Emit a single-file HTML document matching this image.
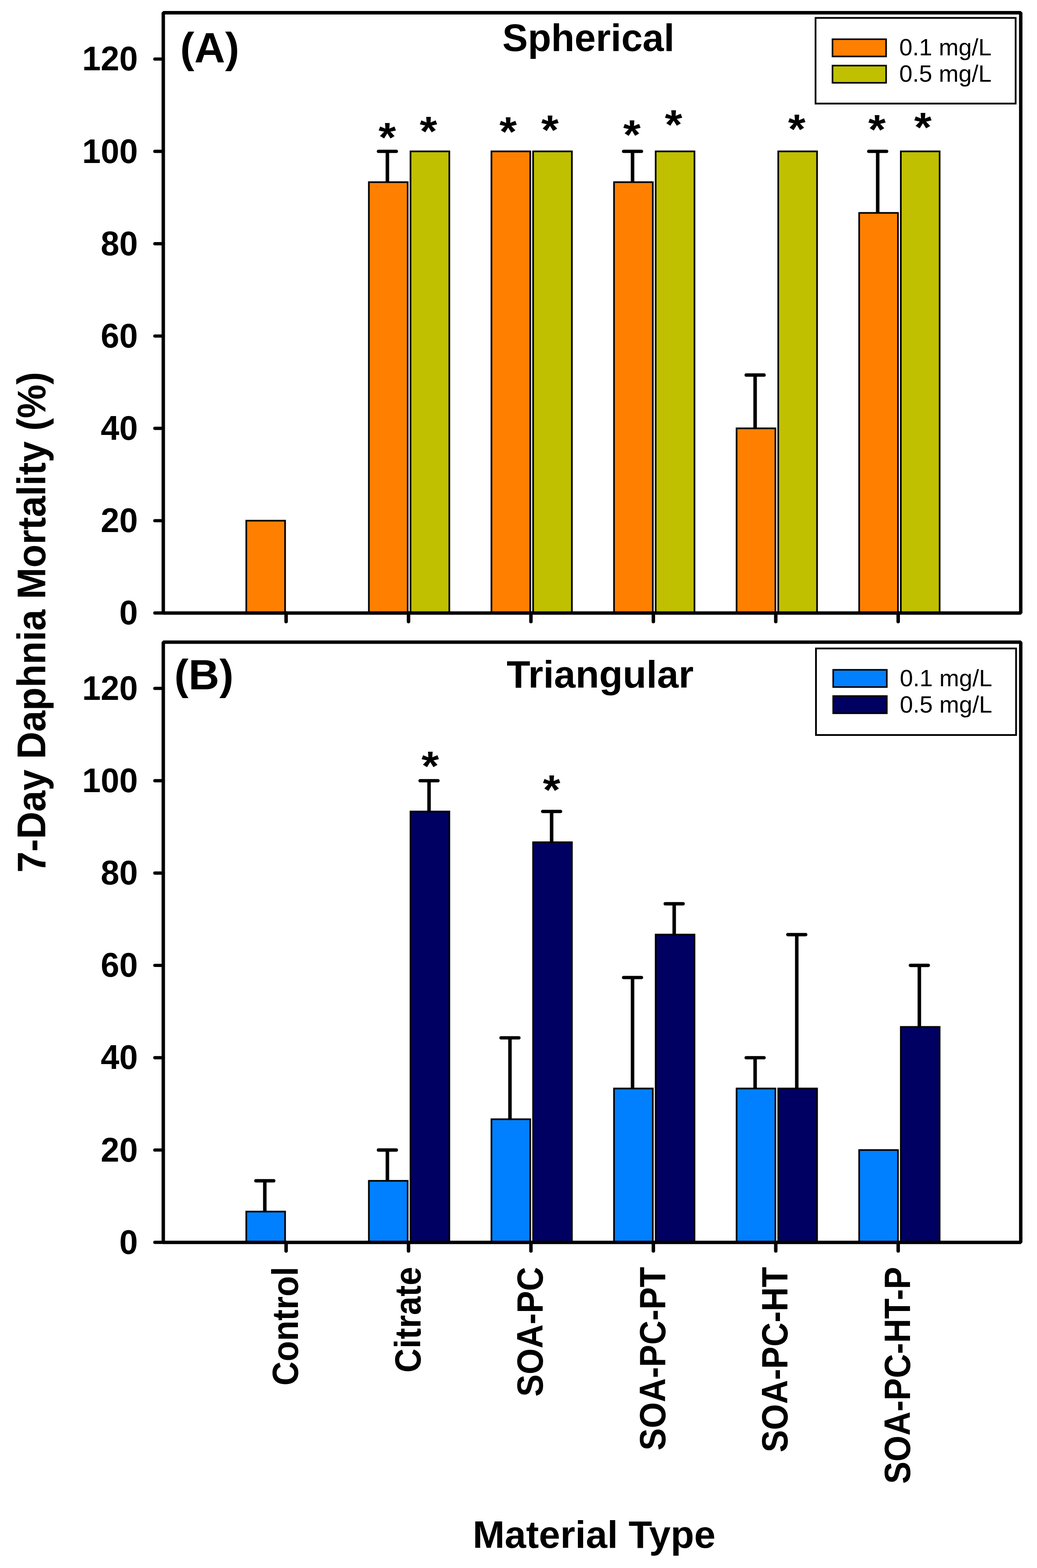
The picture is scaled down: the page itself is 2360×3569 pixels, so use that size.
<!DOCTYPE html><html><head><meta charset="utf-8"><style>html,body{margin:0;padding:0;background:#fff;}svg{display:block}text{font-family:"Liberation Sans",Arial,sans-serif;fill:#000}</style></head><body>
<svg width="2360" height="3569" viewBox="0 0 2360 3569">
<rect x="0" y="0" width="2360" height="3569" fill="#fff"/>
<rect x="560.50" y="1185.15" width="88.30" height="210.15" fill="#FF8000" stroke="#000" stroke-width="3.8"/>
<rect x="839.46" y="414.62" width="88.30" height="980.68" fill="#FF8000" stroke="#000" stroke-width="3.8"/>
<line x1="881.61" y1="415.62" x2="881.61" y2="344.53" stroke="#000" stroke-width="8"/>
<line x1="861.31" y1="344.53" x2="901.91" y2="344.53" stroke="#000" stroke-width="7.6" stroke-linecap="round"/>
<rect x="934.26" y="344.53" width="88.30" height="1050.77" fill="#C0C000" stroke="#000" stroke-width="3.8"/>
<rect x="1118.42" y="344.53" width="88.30" height="1050.77" fill="#FF8000" stroke="#000" stroke-width="3.8"/>
<rect x="1213.22" y="344.53" width="88.30" height="1050.77" fill="#C0C000" stroke="#000" stroke-width="3.8"/>
<rect x="1397.38" y="414.62" width="88.30" height="980.68" fill="#FF8000" stroke="#000" stroke-width="3.8"/>
<line x1="1439.53" y1="415.62" x2="1439.53" y2="344.53" stroke="#000" stroke-width="8"/>
<line x1="1419.23" y1="344.53" x2="1459.83" y2="344.53" stroke="#000" stroke-width="7.6" stroke-linecap="round"/>
<rect x="1492.18" y="344.53" width="88.30" height="1050.77" fill="#C0C000" stroke="#000" stroke-width="3.8"/>
<rect x="1676.34" y="974.99" width="88.30" height="420.31" fill="#FF8000" stroke="#000" stroke-width="3.8"/>
<line x1="1718.49" y1="975.99" x2="1718.49" y2="853.63" stroke="#000" stroke-width="8"/>
<line x1="1698.19" y1="853.63" x2="1738.79" y2="853.63" stroke="#000" stroke-width="7.6" stroke-linecap="round"/>
<rect x="1771.14" y="344.53" width="88.30" height="1050.77" fill="#C0C000" stroke="#000" stroke-width="3.8"/>
<rect x="1955.30" y="484.60" width="88.30" height="910.70" fill="#FF8000" stroke="#000" stroke-width="3.8"/>
<line x1="1997.45" y1="485.60" x2="1997.45" y2="344.53" stroke="#000" stroke-width="8"/>
<line x1="1977.15" y1="344.53" x2="2017.75" y2="344.53" stroke="#000" stroke-width="7.6" stroke-linecap="round"/>
<rect x="2050.10" y="344.53" width="88.30" height="1050.77" fill="#C0C000" stroke="#000" stroke-width="3.8"/>
<rect x="371.6" y="29.0" width="1951.40" height="1366.30" fill="none" stroke="#000" stroke-width="7.8" stroke-linejoin="bevel"/>
<line x1="352.4" y1="1395.30" x2="371.6" y2="1395.30" stroke="#000" stroke-width="7.4" stroke-linecap="round"/>
<text transform="translate(313.8,1421.30) scale(1,1.035)" x="0" y="0" font-size="76" font-weight="bold" text-anchor="end">0</text>
<line x1="352.4" y1="1185.15" x2="371.6" y2="1185.15" stroke="#000" stroke-width="7.4" stroke-linecap="round"/>
<text transform="translate(313.8,1211.15) scale(1,1.035)" x="0" y="0" font-size="76" font-weight="bold" text-anchor="end">20</text>
<line x1="352.4" y1="974.99" x2="371.6" y2="974.99" stroke="#000" stroke-width="7.4" stroke-linecap="round"/>
<text transform="translate(313.8,1000.99) scale(1,1.035)" x="0" y="0" font-size="76" font-weight="bold" text-anchor="end">40</text>
<line x1="352.4" y1="764.84" x2="371.6" y2="764.84" stroke="#000" stroke-width="7.4" stroke-linecap="round"/>
<text transform="translate(313.8,790.84) scale(1,1.035)" x="0" y="0" font-size="76" font-weight="bold" text-anchor="end">60</text>
<line x1="352.4" y1="554.68" x2="371.6" y2="554.68" stroke="#000" stroke-width="7.4" stroke-linecap="round"/>
<text transform="translate(313.8,580.68) scale(1,1.035)" x="0" y="0" font-size="76" font-weight="bold" text-anchor="end">80</text>
<line x1="352.4" y1="344.53" x2="371.6" y2="344.53" stroke="#000" stroke-width="7.4" stroke-linecap="round"/>
<text transform="translate(313.8,370.53) scale(1,1.035)" x="0" y="0" font-size="76" font-weight="bold" text-anchor="end">100</text>
<line x1="352.4" y1="134.38" x2="371.6" y2="134.38" stroke="#000" stroke-width="7.4" stroke-linecap="round"/>
<text transform="translate(313.8,160.38) scale(1,1.035)" x="0" y="0" font-size="76" font-weight="bold" text-anchor="end">120</text>
<line x1="651.10" y1="1395.30" x2="651.10" y2="1414.80" stroke="#000" stroke-width="7.9" stroke-linecap="round"/>
<line x1="929.70" y1="1395.30" x2="929.70" y2="1414.80" stroke="#000" stroke-width="7.9" stroke-linecap="round"/>
<line x1="1208.30" y1="1395.30" x2="1208.30" y2="1414.80" stroke="#000" stroke-width="7.9" stroke-linecap="round"/>
<line x1="1486.90" y1="1395.30" x2="1486.90" y2="1414.80" stroke="#000" stroke-width="7.9" stroke-linecap="round"/>
<line x1="1765.50" y1="1395.30" x2="1765.50" y2="1414.80" stroke="#000" stroke-width="7.9" stroke-linecap="round"/>
<line x1="2044.10" y1="1395.30" x2="2044.10" y2="1414.80" stroke="#000" stroke-width="7.9" stroke-linecap="round"/>
<text transform="translate(881.45,297.85) scale(1.02,0.94)" x="0" y="50.20" font-size="100" font-weight="bold" text-anchor="middle">*</text>
<text transform="translate(975.05,283.65) scale(1.02,0.94)" x="0" y="50.20" font-size="100" font-weight="bold" text-anchor="middle">*</text>
<text transform="translate(1156.35,284.75) scale(1.02,0.94)" x="0" y="50.20" font-size="100" font-weight="bold" text-anchor="middle">*</text>
<text transform="translate(1251.50,280.80) scale(1.02,0.94)" x="0" y="50.20" font-size="100" font-weight="bold" text-anchor="middle">*</text>
<text transform="translate(1438.00,291.30) scale(1.02,0.94)" x="0" y="50.20" font-size="100" font-weight="bold" text-anchor="middle">*</text>
<text transform="translate(1532.90,269.05) scale(1.02,0.94)" x="0" y="50.20" font-size="100" font-weight="bold" text-anchor="middle">*</text>
<text transform="translate(1813.30,278.35) scale(1.02,0.94)" x="0" y="50.20" font-size="100" font-weight="bold" text-anchor="middle">*</text>
<text transform="translate(1995.80,279.70) scale(1.02,0.94)" x="0" y="50.20" font-size="100" font-weight="bold" text-anchor="middle">*</text>
<text transform="translate(2100.25,274.80) scale(1.02,0.94)" x="0" y="50.20" font-size="100" font-weight="bold" text-anchor="middle">*</text>
<rect x="560.50" y="2757.71" width="88.30" height="70.09" fill="#0080FF" stroke="#000" stroke-width="3.8"/>
<line x1="602.65" y1="2758.71" x2="602.65" y2="2687.63" stroke="#000" stroke-width="8"/>
<line x1="582.35" y1="2687.63" x2="622.95" y2="2687.63" stroke="#000" stroke-width="7.6" stroke-linecap="round"/>
<rect x="839.46" y="2687.73" width="88.30" height="140.07" fill="#0080FF" stroke="#000" stroke-width="3.8"/>
<line x1="881.61" y1="2688.73" x2="881.61" y2="2617.65" stroke="#000" stroke-width="8"/>
<line x1="861.31" y1="2617.65" x2="901.91" y2="2617.65" stroke="#000" stroke-width="7.6" stroke-linecap="round"/>
<rect x="934.26" y="1847.12" width="88.30" height="980.68" fill="#000062" stroke="#000" stroke-width="3.8"/>
<line x1="976.41" y1="1848.12" x2="976.41" y2="1777.03" stroke="#000" stroke-width="8"/>
<line x1="956.11" y1="1777.03" x2="996.71" y2="1777.03" stroke="#000" stroke-width="7.6" stroke-linecap="round"/>
<rect x="1118.42" y="2547.56" width="88.30" height="280.24" fill="#0080FF" stroke="#000" stroke-width="3.8"/>
<line x1="1160.57" y1="2548.56" x2="1160.57" y2="2362.20" stroke="#000" stroke-width="8"/>
<line x1="1140.27" y1="2362.20" x2="1180.87" y2="2362.20" stroke="#000" stroke-width="7.6" stroke-linecap="round"/>
<rect x="1213.22" y="1917.10" width="88.30" height="910.70" fill="#000062" stroke="#000" stroke-width="3.8"/>
<line x1="1255.37" y1="1918.10" x2="1255.37" y2="1847.01" stroke="#000" stroke-width="8"/>
<line x1="1235.07" y1="1847.01" x2="1275.67" y2="1847.01" stroke="#000" stroke-width="7.6" stroke-linecap="round"/>
<rect x="1397.38" y="2477.58" width="88.30" height="350.22" fill="#0080FF" stroke="#000" stroke-width="3.8"/>
<line x1="1439.53" y1="2478.58" x2="1439.53" y2="2224.97" stroke="#000" stroke-width="8"/>
<line x1="1419.23" y1="2224.97" x2="1459.83" y2="2224.97" stroke="#000" stroke-width="7.6" stroke-linecap="round"/>
<rect x="1492.18" y="2127.25" width="88.30" height="700.55" fill="#000062" stroke="#000" stroke-width="3.8"/>
<line x1="1534.33" y1="2128.25" x2="1534.33" y2="2057.17" stroke="#000" stroke-width="8"/>
<line x1="1514.03" y1="2057.17" x2="1554.63" y2="2057.17" stroke="#000" stroke-width="7.6" stroke-linecap="round"/>
<rect x="1676.34" y="2477.58" width="88.30" height="350.22" fill="#0080FF" stroke="#000" stroke-width="3.8"/>
<line x1="1718.49" y1="2478.58" x2="1718.49" y2="2407.49" stroke="#000" stroke-width="8"/>
<line x1="1698.19" y1="2407.49" x2="1738.79" y2="2407.49" stroke="#000" stroke-width="7.6" stroke-linecap="round"/>
<rect x="1771.14" y="2477.58" width="88.30" height="350.22" fill="#000062" stroke="#000" stroke-width="3.8"/>
<line x1="1813.29" y1="2478.58" x2="1813.29" y2="2127.36" stroke="#000" stroke-width="8"/>
<line x1="1792.99" y1="2127.36" x2="1833.59" y2="2127.36" stroke="#000" stroke-width="7.6" stroke-linecap="round"/>
<rect x="1955.30" y="2617.65" width="88.30" height="210.15" fill="#0080FF" stroke="#000" stroke-width="3.8"/>
<rect x="2050.10" y="2337.41" width="88.30" height="490.39" fill="#000062" stroke="#000" stroke-width="3.8"/>
<line x1="2092.25" y1="2338.41" x2="2092.25" y2="2197.34" stroke="#000" stroke-width="8"/>
<line x1="2071.95" y1="2197.34" x2="2112.55" y2="2197.34" stroke="#000" stroke-width="7.6" stroke-linecap="round"/>
<rect x="371.6" y="1461.7" width="1951.40" height="1366.10" fill="none" stroke="#000" stroke-width="7.8" stroke-linejoin="bevel"/>
<line x1="352.4" y1="2827.80" x2="371.6" y2="2827.80" stroke="#000" stroke-width="7.4" stroke-linecap="round"/>
<text transform="translate(313.8,2853.80) scale(1,1.035)" x="0" y="0" font-size="76" font-weight="bold" text-anchor="end">0</text>
<line x1="352.4" y1="2617.65" x2="371.6" y2="2617.65" stroke="#000" stroke-width="7.4" stroke-linecap="round"/>
<text transform="translate(313.8,2643.65) scale(1,1.035)" x="0" y="0" font-size="76" font-weight="bold" text-anchor="end">20</text>
<line x1="352.4" y1="2407.49" x2="371.6" y2="2407.49" stroke="#000" stroke-width="7.4" stroke-linecap="round"/>
<text transform="translate(313.8,2433.49) scale(1,1.035)" x="0" y="0" font-size="76" font-weight="bold" text-anchor="end">40</text>
<line x1="352.4" y1="2197.34" x2="371.6" y2="2197.34" stroke="#000" stroke-width="7.4" stroke-linecap="round"/>
<text transform="translate(313.8,2223.34) scale(1,1.035)" x="0" y="0" font-size="76" font-weight="bold" text-anchor="end">60</text>
<line x1="352.4" y1="1987.18" x2="371.6" y2="1987.18" stroke="#000" stroke-width="7.4" stroke-linecap="round"/>
<text transform="translate(313.8,2013.18) scale(1,1.035)" x="0" y="0" font-size="76" font-weight="bold" text-anchor="end">80</text>
<line x1="352.4" y1="1777.03" x2="371.6" y2="1777.03" stroke="#000" stroke-width="7.4" stroke-linecap="round"/>
<text transform="translate(313.8,1803.03) scale(1,1.035)" x="0" y="0" font-size="76" font-weight="bold" text-anchor="end">100</text>
<line x1="352.4" y1="1566.88" x2="371.6" y2="1566.88" stroke="#000" stroke-width="7.4" stroke-linecap="round"/>
<text transform="translate(313.8,1592.88) scale(1,1.035)" x="0" y="0" font-size="76" font-weight="bold" text-anchor="end">120</text>
<line x1="651.10" y1="2827.80" x2="651.10" y2="2847.30" stroke="#000" stroke-width="7.9" stroke-linecap="round"/>
<line x1="929.70" y1="2827.80" x2="929.70" y2="2847.30" stroke="#000" stroke-width="7.9" stroke-linecap="round"/>
<line x1="1208.30" y1="2827.80" x2="1208.30" y2="2847.30" stroke="#000" stroke-width="7.9" stroke-linecap="round"/>
<line x1="1486.90" y1="2827.80" x2="1486.90" y2="2847.30" stroke="#000" stroke-width="7.9" stroke-linecap="round"/>
<line x1="1765.50" y1="2827.80" x2="1765.50" y2="2847.30" stroke="#000" stroke-width="7.9" stroke-linecap="round"/>
<line x1="2044.10" y1="2827.80" x2="2044.10" y2="2847.30" stroke="#000" stroke-width="7.9" stroke-linecap="round"/>
<text transform="translate(979.05,1729.10) scale(1.02,0.94)" x="0" y="50.20" font-size="100" font-weight="bold" text-anchor="middle">*</text>
<text transform="translate(1255.35,1782.70) scale(1.02,0.94)" x="0" y="50.20" font-size="100" font-weight="bold" text-anchor="middle">*</text>
<text x="409.9" y="142" font-size="97" font-weight="bold">(A)</text>
<text x="396.8" y="1569.3" font-size="97" font-weight="bold">(B)</text>
<text x="1143.2" y="116.4" font-size="87" font-weight="bold">Spherical</text>
<text x="1153.1" y="1564.5" font-size="88" font-weight="bold">Triangular</text>
<rect x="1856" y="40.75" width="455.4" height="195" fill="#fff" stroke="#000" stroke-width="4"/>
<rect x="1894.6" y="89.3" width="122" height="39.2" fill="#FF8000" stroke="#000" stroke-width="3.6"/>
<rect x="1894.6" y="149.3" width="122" height="39.2" fill="#C0C000" stroke="#000" stroke-width="3.6"/>
<text x="2046.5" y="126.25" font-size="54">0.1 mg/L</text>
<text x="2046.5" y="185.6" font-size="54">0.5 mg/L</text>
<rect x="1857" y="1476" width="455.4" height="197" fill="#fff" stroke="#000" stroke-width="4"/>
<rect x="1896.2" y="1524.6" width="122" height="39.2" fill="#0080FF" stroke="#000" stroke-width="3.6"/>
<rect x="1896.2" y="1584.3" width="122" height="39.2" fill="#000062" stroke="#000" stroke-width="3.6"/>
<text x="2047.8" y="1561.6" font-size="54">0.1 mg/L</text>
<text x="2047.8" y="1621.6" font-size="54">0.5 mg/L</text>
<text transform="translate(678.00,2883.5) rotate(-90) scale(1,1.09)" x="0" y="0" font-size="76" font-weight="bold" text-anchor="end">Control</text>
<text transform="translate(956.60,2883.5) rotate(-90) scale(1,1.09)" x="0" y="0" font-size="76" font-weight="bold" text-anchor="end">Citrate</text>
<text transform="translate(1235.20,2883.5) rotate(-90) scale(1,1.09)" x="0" y="0" font-size="76" font-weight="bold" text-anchor="end">SOA-PC</text>
<text transform="translate(1513.80,2883.5) rotate(-90) scale(1,1.09)" x="0" y="0" font-size="76" font-weight="bold" text-anchor="end">SOA-PC-PT</text>
<text transform="translate(1792.40,2883.5) rotate(-90) scale(1,1.09)" x="0" y="0" font-size="76" font-weight="bold" text-anchor="end">SOA-PC-HT</text>
<text transform="translate(2071.00,2883.5) rotate(-90) scale(1,1.09)" x="0" y="0" font-size="76" font-weight="bold" text-anchor="end">SOA-PC-HT-P</text>
<text transform="translate(102.7,1416.45) rotate(-90) scale(1,1.06)" x="0" y="0" font-size="86.2" font-weight="bold" text-anchor="middle">7-Day Daphnia Mortality (%)</text>
<text x="1352" y="3522.5" font-size="87.5" font-weight="bold" text-anchor="middle">Material Type</text>
</svg></body></html>
